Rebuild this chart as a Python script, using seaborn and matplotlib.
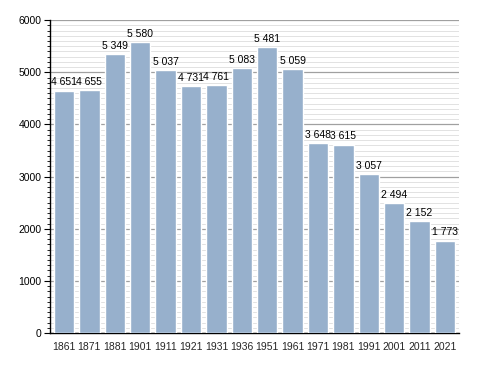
import numpy as np
import pandas as pd
import matplotlib.pyplot as plt
from matplotlib.ticker import MultipleLocator
import seaborn as sns

years = ["1861", "1871", "1881", "1901", "1911", "1921", "1931", "1936",
         "1951", "1961", "1971", "1981", "1991", "2001", "2011", "2021"]
population = [4651, 4655, 5349, 5580, 5037, 4731, 4761, 5083,
              5481, 5059, 3648, 3615, 3057, 2494, 2152, 1773]

df = pd.DataFrame({"year": years, "pop": population})

sns.set_style("white")
plt.rcParams['font.family'] = ['Liberation Sans', 'DejaVu Sans']

fig = plt.figure(figsize=(4.88, 3.73), dpi=100)
ax = fig.add_axes([0.1025, 0.107, 0.838, 0.839])

sns.barplot(data=df, x="year", y="pop", color="#97b0cc", saturation=1,
            width=0.8, ax=ax, zorder=3)

ax.set_ylim(0, 6000)
ax.set_xlim(-0.55, len(years) - 0.45)
ax.yaxis.set_major_locator(MultipleLocator(1000))
ax.yaxis.set_minor_locator(MultipleLocator(100))
ax.grid(axis="y", which="major", color="#a0a0a0", linewidth=0.9, zorder=0)
ax.grid(axis="y", which="minor", color="#e2e2e2", linewidth=0.7, zorder=0)
ax.set_axisbelow(True)

for s in ["top", "right"]:
    ax.spines[s].set_visible(False)
for s in ["left", "bottom"]:
    ax.spines[s].set_color("black")
    ax.spines[s].set_linewidth(1.0)

ax.tick_params(axis="y", which="major", left=True, length=4, width=0.8,
               labelsize=7.5, pad=2, colors="black")
ax.tick_params(axis="y", which="minor", left=True, length=2.5, width=0.6,
               colors="black")
ax.tick_params(axis="x", bottom=False, labelsize=7.5, pad=3)
ax.set_xlabel("")
ax.set_ylabel("")

for i, v in enumerate(population):
    label = f"{v:,}".replace(",", " ")
    ax.text(i, v + 60, label, ha="center", va="bottom", fontsize=7.5,
            color="black", zorder=5)

fig.savefig("out.png", dpi=100)
